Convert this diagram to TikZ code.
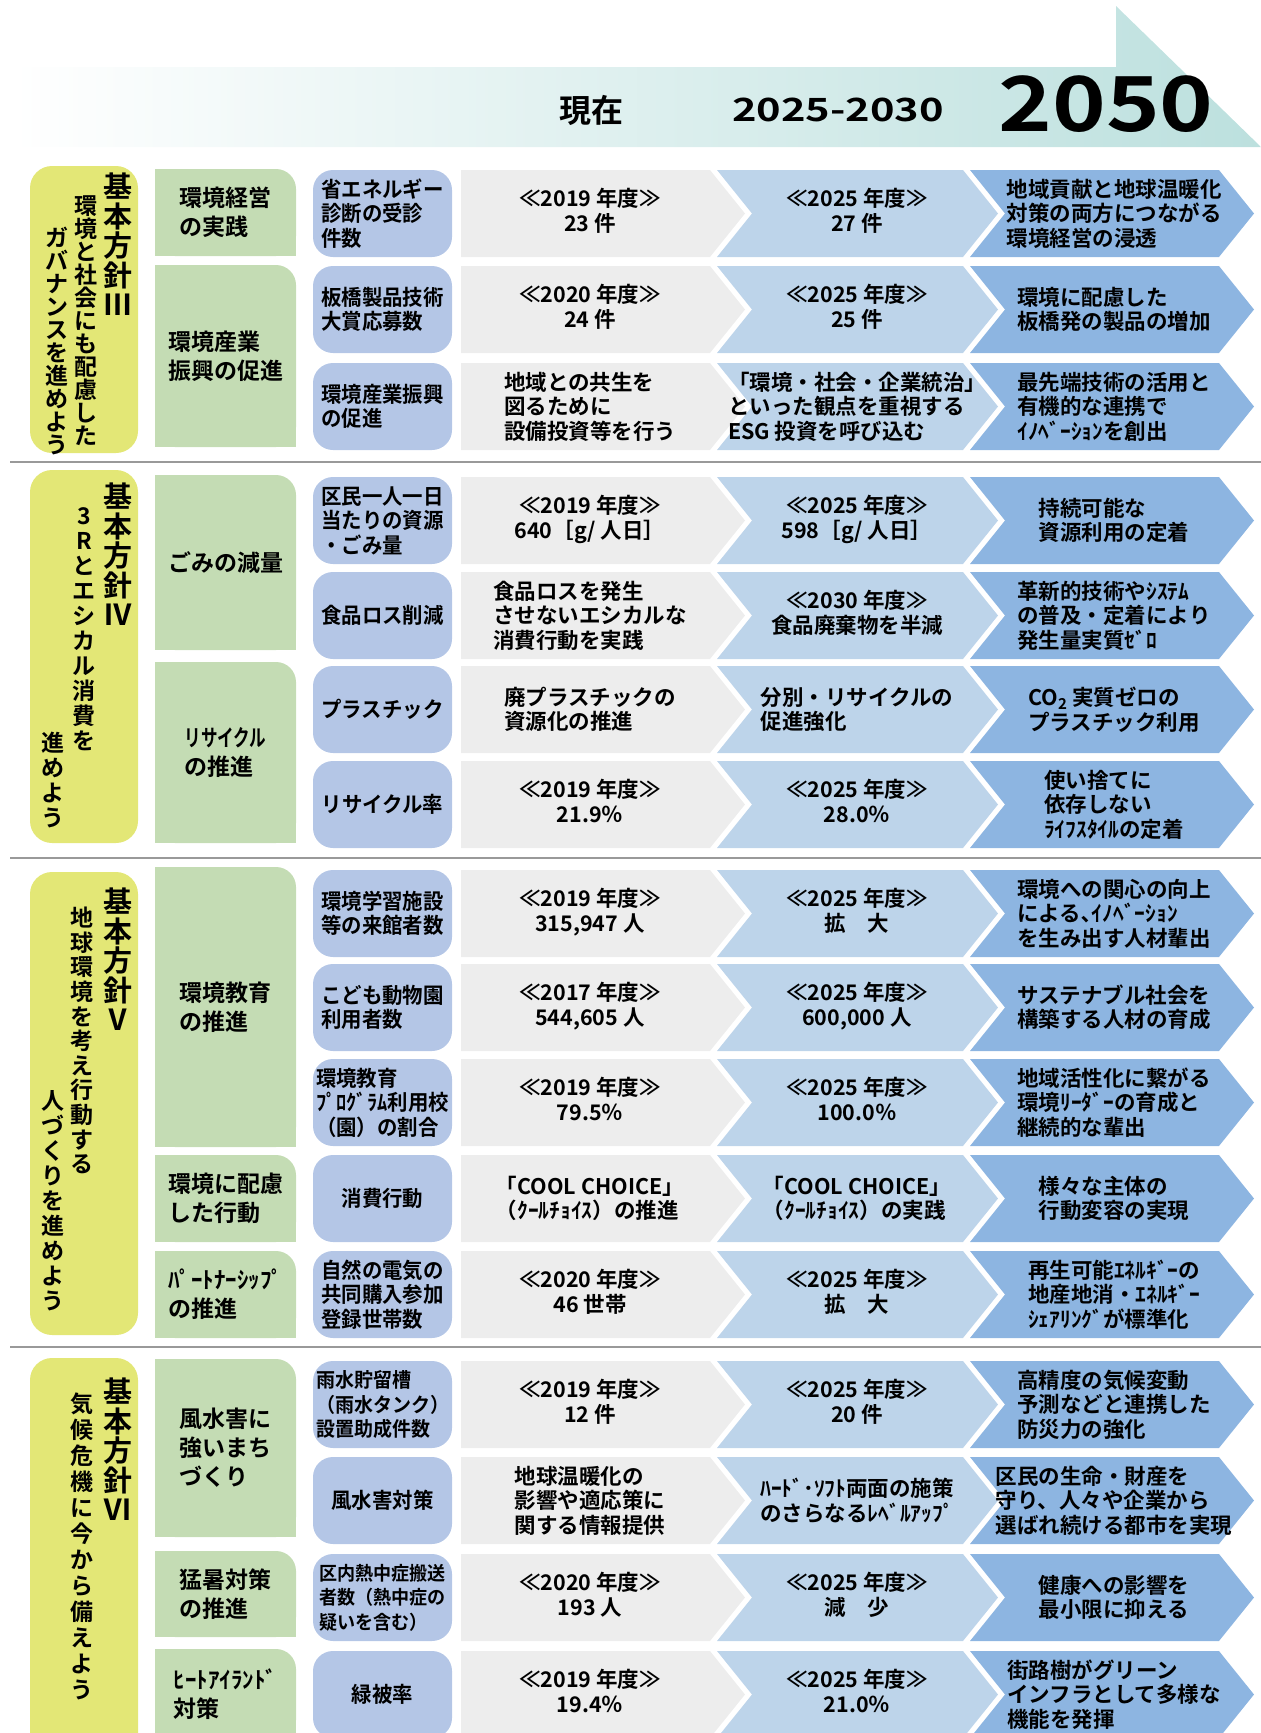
\documentclass[tikz,border=0pt]{standalone}
\usepackage{fontspec}
\usepackage{tikz}
\setmainfont{Noto Sans CJK JP}[BoldFont=* Bold]
\newfontfamily\narrowjp{Noto Sans CJK JP}[BoldFont=* Bold, FakeStretch=0.95]
\definecolor{hdrteal}{HTML}{BCE0DE}
\definecolor{goalyellow}{HTML}{E3E776}
\definecolor{areagreen}{HTML}{C4DCB4}
\definecolor{indblue}{HTML}{B4C6E6}
\definecolor{nowgray}{HTML}{EDEDED}
\definecolor{midblue}{HTML}{BDD4EA}
\definecolor{goalblue}{HTML}{8DB5E1}
\makeatletter
\newcommand\tate[2][25]{\vbox{\baselineskip=#1pt\@tfor\tatechar:=#2\do{\hbox to 1em{\hss\tatechar\hss}}}}
\makeatother
\newcommand\yr[2]{\begin{tabular}{@{}c@{}}≪#1 年度≫\\#2\end{tabular}}
\newcommand\goalrow[6]{%
    \node[ind node] (#1) at (382.5,#2+43.5) {#3};
    \fill[nowgray] (461,#2) -- (710,#2) -- (745,#2+43.5) -- (710,#2+87) -- (461,#2+87) -- cycle;
    \fill[midblue] (717,#2) -- (963,#2) -- (998,#2+43.5) -- (963,#2+87) -- (717,#2+87) -- (752,#2+43.5) -- cycle;
    \fill[goalblue] (970,#2) -- (1219,#2) -- (1254,#2+43.5) -- (1219,#2+87) -- (970,#2+87) -- (1005,#2+43.5) -- cycle;
    \node[text node] (#1-now) at (590,#2+43.5) {#4};
    \node[text node] (#1-mid) at (857,#2+43.5) {#5};
    \node[text node] (#1-goal) at (1114,#2+43.5) {#6};}
\newcommand\areabox[4]{%
    \fill[areagreen, rounded corners=20pt] (155,#2) rectangle (296,#3);
    \fill[areagreen] (155,#2) rectangle (270,#3);
    \fill[areagreen] (155,#2+24) rectangle (296,#3);
    \node[area node] (#1) at (225.5,{(#2+#3)/2}) {#4};}

\begin{document}
\begin{tikzpicture}[x=1pt, y=-1pt,
        ind node/.style={fill=indblue, rounded corners=20pt, minimum width=139pt, minimum height=87pt,
            inner sep=0pt, align=left, font=\narrowjp\bfseries\fontsize{21.5}{24.5}\selectfont},
        text node/.style={inner sep=0pt, align=left, font=\bfseries\fontsize{21.5}{24.5}\selectfont},
        area node/.style={inner sep=0pt, align=left, font=\bfseries\fontsize{23}{29}\selectfont},
        policy node/.style={anchor=north, inner sep=0pt, font=\bfseries\fontsize{29}{29}\selectfont},
        sub node/.style={anchor=north, inner sep=0pt, font=\bfseries\fontsize{23}{25}\selectfont},
        head node/.style={inner sep=0pt, font=\bfseries\fontsize{32}{34}\selectfont},
        sep line/.style={draw=black!40, line width=1.5pt}]
    \useasboundingbox (0,0) rectangle (1261,1733);

    \shade[left color=white, right color=hdrteal] (12,67) -- (1116,67) -- (1116,6) -- (1261,147) -- (12,147) -- cycle;
    \node[head node] (now) at (591,110) {現在};
    \node[head node] (mid) at (838,110) {\scalebox{1.3}[1]{2025-2030}};
    \node[head node, font=\bfseries\fontsize{76}{76}\selectfont] (goal) at (1106,104) {\scalebox{1.2}[1]{2050}};

    \draw[sep line] (10,462) -- (1261,462);
    \draw[sep line] (10,858) -- (1261,858);
    \draw[sep line] (10,1347) -- (1261,1347);

    \fill[goalyellow, rounded corners=22pt] (30,166) rectangle (138,453);
    \node[policy node] (p3) at (118,173) {\tate[29.5]{基本方針Ⅲ}};
    \node[sub node] (p3a) at (86,195) {\tate[23]{環境と社会にも配慮した}};
    \node[sub node] (p3b) at (57,227) {\tate[23]{ガバナンスを進めよう}};
    \areabox{a31}{169}{256}{環境経営\\の実践}
    \areabox{a32}{265}{447}{環境産業\\振興の促進}
    \goalrow{r31}{170}{省エネルギー\\診断の受診\\件数}{\yr{2019}{23 件}}{\yr{2025}{27 件}}{地域貢献と地球温暖化\\対策の両方につながる\\環境経営の浸透}
    \goalrow{r32}{266}{板橋製品技術\\大賞応募数}{\yr{2020}{24 件}}{\yr{2025}{25 件}}{環境に配慮した\\板橋発の製品の増加}
    \goalrow{r33}{363}{環境産業振興\\の促進}{地域との共生を\\図るために\\設備投資等を行う}{「環境・社会・企業統治」\\といった観点を重視する\\ESG 投資を呼び込む}{最先端技術の活用と\\有機的な連携で\\ｲﾉﾍﾞｰｼｮﾝを創出}

    \fill[goalyellow, rounded corners=22pt] (30,470) rectangle (138,843);
    \node[policy node] (p4) at (118,483) {\tate[29.5]{基本方針Ⅳ}};
    \node[sub node] (p4a) at (84,507) {\tate{3Rとエシカル消費を}};
    \node[sub node] (p4b) at (53,732) {\tate{進めよう}};
    \areabox{a41}{475}{650}{ごみの減量}
    \areabox{a42}{662}{843}{\scalebox{0.72}[1]{リサイクル}\\の推進}
    \goalrow{r41}{477}{区民一人一日\\当たりの資源\\・ごみ量}{\yr{2019}{640［g/ 人日］}}{\yr{2025}{598［g/ 人日］}}{持続可能な\\資源利用の定着}
    \goalrow{r42}{572}{食品ロス削減}{食品ロスを発生\\させないエシカルな\\消費行動を実践}{\yr{2030}{食品廃棄物を半減}}{革新的技術やｼｽﾃﾑ\\の普及・定着により\\発生量実質ｾﾞﾛ}
    \goalrow{r43}{666}{プラスチック}{廃プラスチックの\\資源化の推進}{分別・リサイクルの\\促進強化}{CO\textsubscript{2} 実質ゼロの\\プラスチック利用}
    \goalrow{r44}{761}{リサイクル率}{\yr{2019}{21.9％}}{\yr{2025}{28.0％}}{使い捨てに\\依存しない\\ﾗｲﾌｽﾀｲﾙの定着}

    \fill[goalyellow, rounded corners=22pt] (30,872) rectangle (138,1335);
    \node[policy node] (p5) at (118,888) {\tate[29.5]{基本方針Ⅴ}};
    \node[sub node] (p5a) at (82,907) {\tate[24.6]{地球環境を考え行動する}};
    \node[sub node] (p5b) at (53,1090) {\tate{人づくりを進めよう}};
    \areabox{a51}{867}{1147}{環境教育\\の推進}
    \areabox{a52}{1155}{1242}{環境に配慮\\した行動}
    \areabox{a53}{1251}{1338}{ﾊﾟｰﾄﾅｰｼｯﾌﾟ\\の推進}
    \goalrow{r51}{870}{環境学習施設\\等の来館者数}{\yr{2019}{315,947 人}}{\yr{2025}{拡　大}}{環境への関心の向上\\による､ｲﾉﾍﾞｰｼｮﾝ\\を生み出す人材輩出}
    \goalrow{r52}{964}{こども動物園\\利用者数}{\yr{2017}{544,605 人}}{\yr{2025}{600,000 人}}{サステナブル社会を\\構築する人材の育成}
    \goalrow{r53}{1059}{環境教育\\ﾌﾟﾛｸﾞﾗﾑ利用校\\（園）の割合}{\yr{2019}{79.5％}}{\yr{2025}{100.0％}}{地域活性化に繋がる\\環境ﾘｰﾀﾞｰの育成と\\継続的な輩出}
    \goalrow{r54}{1155}{消費行動}{「COOL CHOICE」\\（ｸｰﾙﾁｮｲｽ）の推進}{「COOL CHOICE」\\（ｸｰﾙﾁｮｲｽ）の実践}{様々な主体の\\行動変容の実現}
    \goalrow{r55}{1251}{自然の電気の\\共同購入参加\\登録世帯数}{\yr{2020}{46 世帯}}{\yr{2025}{拡　大}}{再生可能ｴﾈﾙｷﾞｰの\\地産地消・ｴﾈﾙｷﾞｰ\\ｼｪｱﾘﾝｸﾞが標準化}

    \fill[goalyellow, rounded corners=22pt] (30,1358) rectangle (138,1790);
    \node[policy node] (p6) at (118,1378) {\tate[29.5]{基本方針Ⅵ}};
    \node[sub node] (p6a) at (82,1393) {\tate[26]{気候危機に今から備えよう}};
    \areabox{a61}{1359}{1537}{風水害に\\強いまち\\づくり}
    \areabox{a62}{1551}{1637}{猛暑対策\\の推進}
    \areabox{a63}{1649}{1740}{ﾋｰﾄｱｲﾗﾝﾄﾞ\\対策}
    \goalrow{r61}{1361}{\fontsize{20}{24.5}\selectfont 雨水貯留槽\\\fontsize{20}{24.5}\selectfont （雨水タンク）\\\fontsize{20}{24.5}\selectfont 設置助成件数}{\yr{2019}{12 件}}{\yr{2025}{20 件}}{高精度の気候変動\\予測などと連携した\\防災力の強化}
    \goalrow{r62}{1457}{風水害対策}{地球温暖化の\\影響や適応策に\\関する情報提供}{ﾊｰﾄﾞ･ｿﾌﾄ両面の施策\\のさらなるﾚﾍﾞﾙｱｯﾌﾟ}{区民の生命・財産を\\守り、人々や企業から\\選ばれ続ける都市を実現}
    \goalrow{r63}{1554}{\fontsize{19}{24.5}\selectfont 区内熱中症搬送\\\fontsize{19}{24.5}\selectfont 者数（熱中症の\\\fontsize{19}{24.5}\selectfont 疑いを含む）}{\yr{2020}{193 人}}{\yr{2025}{減　少}}{健康への影響を\\最小限に抑える}
    \goalrow{r64}{1651}{緑被率}{\yr{2019}{19.4％}}{\yr{2025}{21.0％}}{街路樹がグリーン\\インフラとして多様な\\機能を発揮}
\end{tikzpicture}
\end{document}
